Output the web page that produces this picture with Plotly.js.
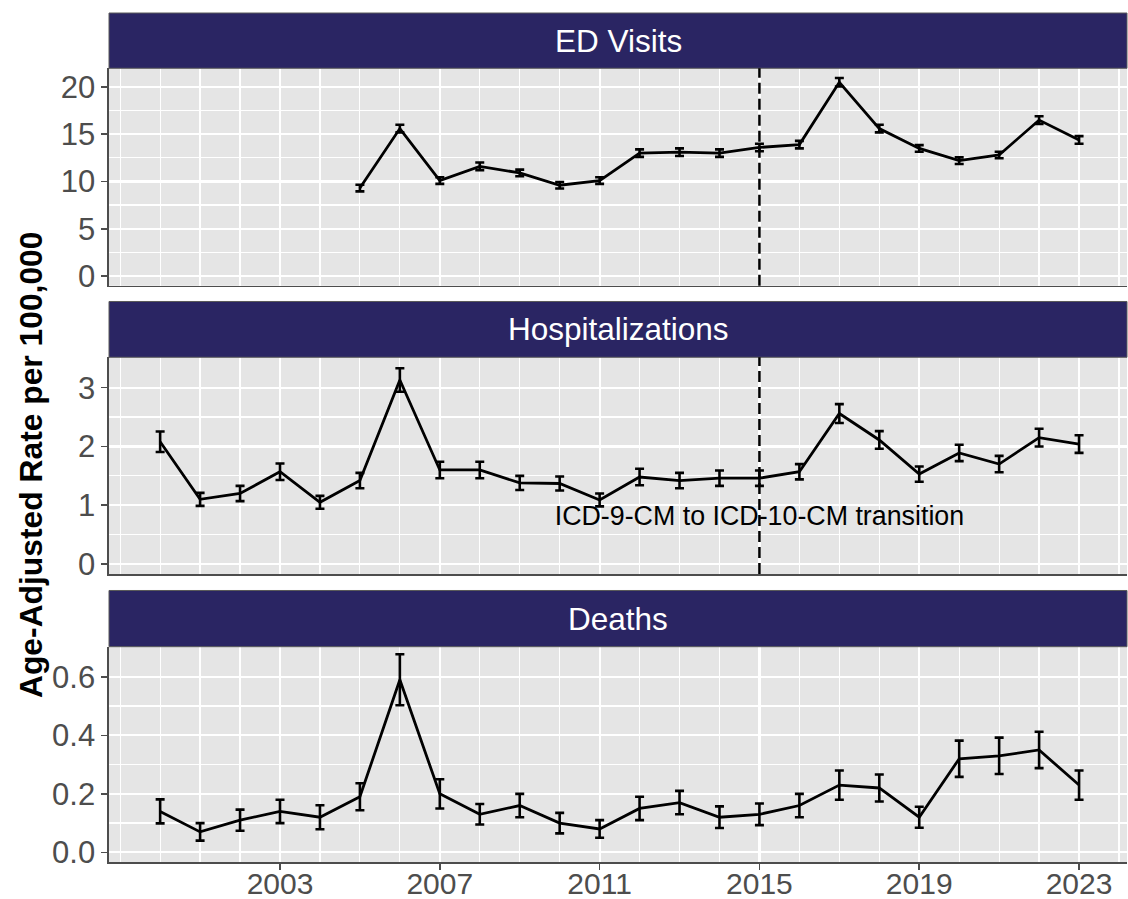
<!DOCTYPE html>
<html>
<head>
<meta charset="utf-8">
<script src="https://cdn.plot.ly/plotly-3.0.1.min.js"></script>
<style>html,body{margin:0;padding:0;background:#fff;}#chart{width:1128px;height:899px;}</style>
</head>
<body>
<div id="chart"></div>
<script>
// ---- Data ----
const panelNames = ["ED Visits", "Hospitalizations", "Deaths"];
const yTitle = "Age-Adjusted Rate per 100,000";
const annotationText = "ICD-9-CM to ICD-10-CM transition";
const transitionYear = 2015;
const xTickVals = [2003, 2007, 2011, 2015, 2019, 2023];

const edYears = [2005,2006,2007,2008,2009,2010,2011,2012,2013,2014,2015,2016,2017,2018,2019,2020,2021,2022,2023];
const edRate  = [9.3,15.6,10.1,11.6,10.9,9.6,10.1,13.0,13.1,13.0,13.6,13.9,20.5,15.6,13.5,12.2,12.8,16.5,14.4];
const edErr   = [0.35,0.4,0.35,0.4,0.35,0.35,0.35,0.4,0.4,0.4,0.4,0.4,0.45,0.4,0.35,0.35,0.35,0.4,0.4];

const allYears = [2000,2001,2002,2003,2004,2005,2006,2007,2008,2009,2010,2011,2012,2013,2014,2015,2016,2017,2018,2019,2020,2021,2022,2023];
const hospRate = [2.08,1.10,1.20,1.57,1.05,1.42,3.13,1.60,1.60,1.38,1.37,1.09,1.48,1.42,1.46,1.46,1.57,2.56,2.11,1.53,1.89,1.70,2.15,2.04];
const hospErr  = [0.175,0.11,0.13,0.14,0.11,0.13,0.2,0.14,0.14,0.12,0.12,0.11,0.14,0.13,0.13,0.13,0.13,0.16,0.15,0.13,0.14,0.14,0.15,0.15];

const deathRate = [0.14,0.07,0.11,0.14,0.12,0.19,0.59,0.20,0.13,0.16,0.10,0.08,0.15,0.17,0.12,0.13,0.16,0.23,0.22,0.12,0.32,0.33,0.35,0.23];
const deathErr  = [0.041,0.03,0.036,0.04,0.041,0.046,0.087,0.05,0.035,0.04,0.035,0.03,0.04,0.04,0.037,0.037,0.04,0.05,0.046,0.036,0.062,0.062,0.062,0.05];

const annotY = 0.78;

// ---- Styling ----
const FONT = "'Liberation Sans', Arial, Helvetica, sans-serif";
const STRIP = "#2A2563";
const PANEL = "#E5E5E5";
const AXC = "#4D4D4D";

function series(x, y, e, xa, ya) {
  return {
    type: "scatter", mode: "lines", x: x, y: y, xaxis: xa, yaxis: ya,
    line: {color: "#000", width: 2.8},
    error_y: {type: "data", array: e, visible: true, color: "#000", thickness: 2.6, width: 4.5},
    hoverinfo: "x+y", showlegend: false
  };
}

const traces = [
  series(edYears, edRate, edErr, "x", "y"),
  series(allYears, hospRate, hospErr, "x2", "y2"),
  series(allYears, deathRate, deathErr, "x3", "y3"),
  {type: "scatter", mode: "text", x: [transitionYear], y: [annotY], xaxis: "x2", yaxis: "y2",
   text: [annotationText], textposition: "middle center",
   textfont: {family: FONT, size: 26.8, color: "#000"}, cliponaxis: false, showlegend: false, hoverinfo: "skip"}
];

// panel domains (paper coords)
const dom = [[0.6788, 0.9349], [0.3392, 0.5945], [0.0, 0.2536]];
const stripDom = [[0.9349, 1.0], [0.5945, 0.6602], [0.2536, 0.3198]];

function xaxis(i) {
  const bottom = (i === 2);
  const a = {
    domain: [0, 1], anchor: i === 0 ? "y" : "y" + (i + 1),
    range: [1998.72, 2024.2], tickvals: xTickVals, ticktext: xTickVals.map(String),
    showgrid: true, gridcolor: "#FFFFFF", gridwidth: 2.2,
    minor: {dtick: 1, tick0: 2000, showgrid: true, gridcolor: "#FFFFFF", gridwidth: 1.2, ticks: ""},
    zeroline: false, showline: true, linecolor: AXC, linewidth: 1.6,
    ticks: bottom ? "outside" : "", ticklen: 6, tickwidth: 1.6, tickcolor: AXC,
    showticklabels: bottom, tickfont: {family: FONT, size: 30, color: AXC},
    ticklabelstandoff: -12,
    automargin: false, fixedrange: true
  };
  if (i > 0) a.matches = "x";
  return a;
}

function yaxis(i, range, dtick, minorD, fmt) {
  return {
    domain: dom[i], anchor: i === 0 ? "x" : "x" + (i + 1),
    range: range, dtick: dtick, tick0: 0, tickformat: fmt,
    showgrid: true, gridcolor: "#FFFFFF", gridwidth: 2.2,
    minor: {dtick: minorD, tick0: 0, showgrid: true, gridcolor: "#FFFFFF", gridwidth: 1.2, ticks: ""},
    zeroline: false, showline: true, linecolor: AXC, linewidth: 1.6,
    ticks: "outside", ticklen: 6, tickwidth: 1.6, tickcolor: AXC,
    tickfont: {family: FONT, size: 31, color: AXC},
    automargin: false, fixedrange: true
  };
}

const shapes = [];
const annotations = [];
for (let i = 0; i < 3; i++) {
  // panel background
  shapes.push({type: "rect", xref: "paper", yref: "paper", x0: 0, x1: 1, y0: dom[i][0], y1: dom[i][1],
    fillcolor: PANEL, line: {width: 0}, layer: "below"});
  // strip
  shapes.push({type: "rect", xref: "paper", yref: "paper", x0: 0, x1: 1, y0: stripDom[i][0], y1: stripDom[i][1],
    fillcolor: STRIP, line: {color: "#5A5A5A", width: 1}, layer: "above"});
  annotations.push({xref: "paper", yref: "paper", x: 0.5, y: (stripDom[i][0] + stripDom[i][1]) / 2,
    text: panelNames[i], showarrow: false, xanchor: "center", yanchor: "middle",
    font: {family: FONT, size: 31.5, color: "#FFFFFF"}});
}
// transition dashed lines on ED and Hospitalizations panels
shapes.push({type: "line", xref: "x", yref: "y domain", x0: transitionYear, x1: transitionYear, y0: 0, y1: 1,
  line: {color: "#000", width: 2.5, dash: "11px,5px"}, layer: "above"});
shapes.push({type: "line", xref: "x2", yref: "y2 domain", x0: transitionYear, x1: transitionYear, y0: 0, y1: 1,
  line: {color: "#000", width: 2.5, dash: "11px,5px"}, layer: "above"});

annotations.push({xref: "paper", yref: "paper", x: -0.0766, y: 0.4676, textangle: -90,
  text: "<b>" + yTitle + "</b>", showarrow: false, xanchor: "center", yanchor: "middle",
  font: {family: FONT, size: 31.8, color: "#000"}});

const layout = {
  width: 1128, height: 899,
  margin: {l: 109, r: 1, t: 13, b: 37, pad: 0},
  paper_bgcolor: "#FFFFFF", plot_bgcolor: "rgba(0,0,0,0)",
  showlegend: false,
  xaxis: xaxis(0), xaxis2: xaxis(1), xaxis3: xaxis(2),
  yaxis: yaxis(0, [-1.03, 21.98], 5, 2.5, ""),
  yaxis2: yaxis(1, [-0.17, 3.517], 1, 0.5, ""),
  yaxis3: yaxis(2, [-0.033, 0.703], 0.2, 0.1, ".1f"),
  shapes: shapes, annotations: annotations
};

Plotly.newPlot("chart", traces, layout, {displayModeBar: false, staticPlot: true});
</script>
</body>
</html>
